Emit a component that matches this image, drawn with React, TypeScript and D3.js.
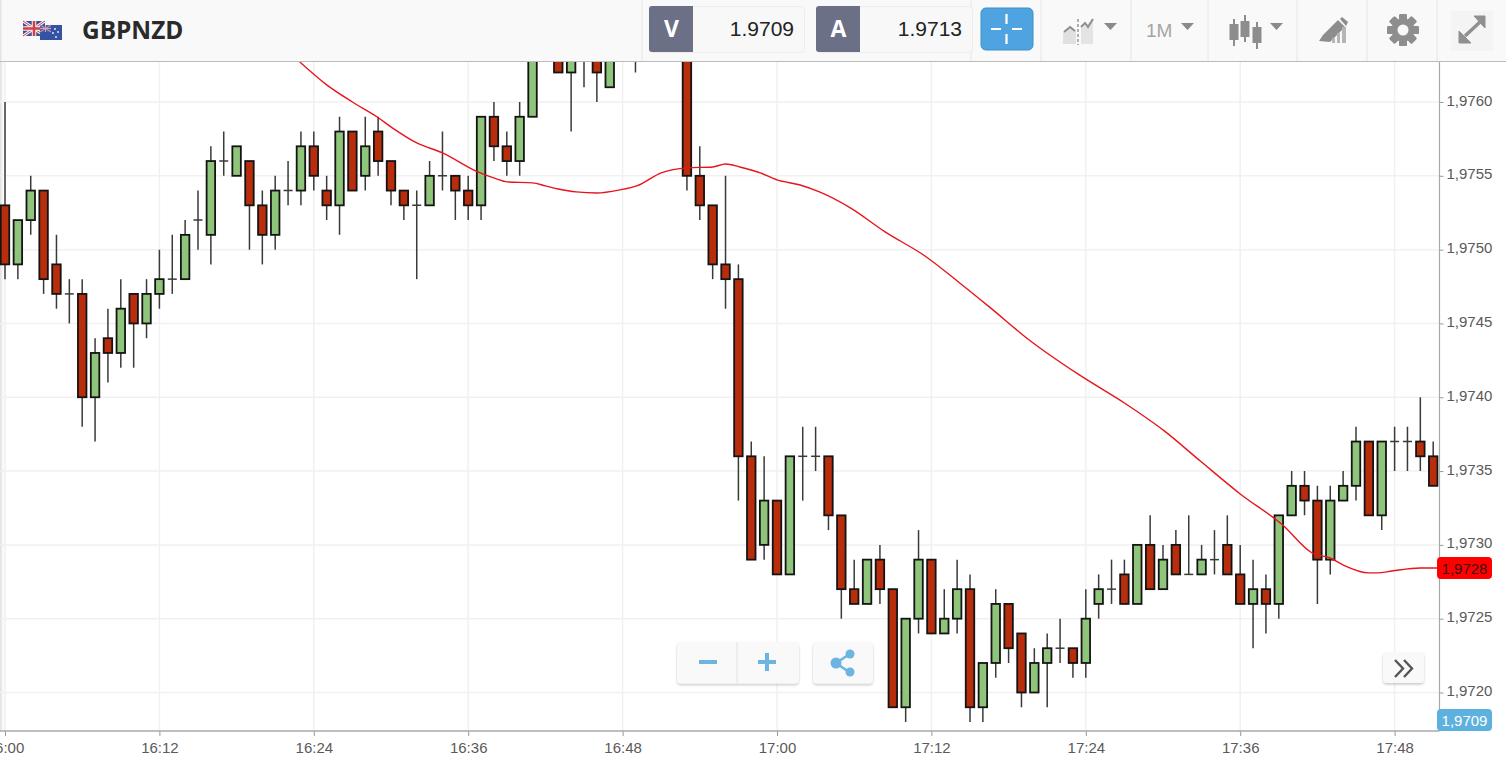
import { useEffect, useRef } from 'react';
import * as d3 from 'd3';

// prices are in pips above 1.9700, one candle per minute from 16:00
const opens = [53,49,52,54,49,47,47,40,44,43,47,45,47,48,48,52,51,56,55,56,53,51,54,54,57,54,53,58,55,58,56,54,53,53,55,55,54,53,59,57,56,59,66,64,62,64,64,61,64,65,66,67,68,68,55,53,49,48,36,30,33,28,36,36,36,32,27,26,29,27,19,25,29,24,25,27,19,22,26,24,20,22,23,23,22,26,27,28,26,30,27,30,28,28,29,30,28,26,27,26,32,34,33,29,33,34,37,32,37,37,37,36];
const highs = [60,52,55,54,51,48,48,44,46,48,47,48,50,51,52,54,57,58,57,56,54,55,56,58,58,55,59,58,59,59,56,54,54,56,58,55,55,59,60,58,60,65,67,65,65,66,65,65,66,67,68,69,70,69,57,53,55,49,37,36,33,36,38,38,36,32,29,29,30,27,25,31,29,27,29,28,22,27,26,24,23,24,25,23,27,28,29,29,30,32,30,31,32,30,31,32,30,29,28,32,35,35,34,34,35,38,37,37,38,38,40,37];
const lows = [48,48,51,47,46,45,38,37,41,42,42,44,46,47,48,50,49,55,55,50,49,50,53,53,54,52,51,54,54,55,53,52,48,53,54,52,52,52,56,55,55,59,64,62,58,61,60,61,63,62,65,66,67,54,52,48,46,33,29,29,28,28,33,35,31,25,26,26,26,19,18,24,24,24,24,18,18,21,22,19,20,19,22,21,21,25,26,26,26,27,27,28,28,28,28,28,26,23,24,25,32,32,26,28,33,33,32,31,35,35,35,34];
const closes = [49,52,54,48,47,47,40,43,43,46,45,47,48,48,51,52,56,56,57,53,51,54,54,57,55,53,58,54,57,56,54,53,53,55,55,54,53,59,57,56,59,64,65,62,64,63,62,64,65,66,67,68,69,55,53,49,48,36,29,33,28,36,36,36,32,27,26,29,27,19,25,29,24,25,27,19,22,26,23,20,22,23,23,22,25,27,27,26,30,27,29,28,28,29,29,28,26,27,26,32,34,33,29,33,34,37,32,37,37,37,36,34];

const maMinutes = [22.9,25,27,28.9,30.1,32,34,36.75,38.2,39,41,42,43,44.4,46,47.8,49.1,51,53,55,56,57.1,58.7,60,61.8,63.3,65.7,68.4,71.5,74.2,76.5,79.6,83.5,87,90.1,92.9,96,99.3,101.6,103,104,106,106.7,107.8,110,111.4];
const maValues = [62.72,61.16,60,59,58.25,57.23,56.55,55.26,54.79,54.59,54.52,54.32,54.11,53.91,53.84,54.05,54.32,55.2,55.54,55.6,55.8,55.6,55.2,54.72,54.38,53.91,52.83,51.2,49.57,47.74,46.12,43.88,41.51,39.61,37.72,35.68,33.45,31.35,29.45,29.11,28.64,28.1,28.1,28.23,28.43,28.43];

const priceTicks = [20,25,30,35,40,45,50,55,60];
const timeTicks = [0,12,24,36,48,60,72,84,96,108];
const timeLabels = ['16:00','16:12','16:24','16:36','16:48','17:00','17:12','17:24','17:36','17:48'];

const symbol = 'GBPNZD';
const sellPrice = '1.9709';
const buyPrice = '1.9713';
const lastMa = '1,9728';
const lastPrice = '1,9709';

const RED = '#b82d0c';
const GREEN = '#8fc47b';
const INK = '#141414';
const AXIS_FONT = '"Liberation Sans", Arial, sans-serif';

const W = 1506;
const H = 769;
const plot = { left: 0, right: 1439.5, top: 62, bottom: 731 };

const x = d3.scaleLinear().domain([0, 12]).range([5, 159.4]);
const y = d3.scaleLinear().domain([20, 60]).range([692.5, 102]);
const fmtPrice = (p: number) => (1.97 + p / 10000).toFixed(4).replace('.', ',');

const App = () => {
  const chartRef = useRef<SVGGElement>(null);

  useEffect(() => {
    const g = d3.select(chartRef.current);
    g.selectAll('*').remove();

    // grid
    g.append('g').selectAll('line').data(priceTicks).join('line')
      .attr('x1', plot.left).attr('x2', plot.right)
      .attr('y1', (d) => y(d)).attr('y2', (d) => y(d))
      .attr('stroke', '#f1f1f1').attr('stroke-width', 1.5);
    g.append('g').selectAll('line').data(timeTicks).join('line')
      .attr('x1', (d) => x(d)).attr('x2', (d) => x(d))
      .attr('y1', plot.top).attr('y2', plot.bottom)
      .attr('stroke', '#f1f1f1').attr('stroke-width', 1.5);

    const body = g.append('g').attr('clip-path', 'url(#plot-clip)');
    const candles = body.selectAll('g.candle').data(d3.range(opens.length)).join('g').attr('class', 'candle');

    candles.append('line')
      .attr('x1', (i) => x(i)).attr('x2', (i) => x(i))
      .attr('y1', (i) => y(highs[i])).attr('y2', (i) => y(lows[i]))
      .attr('stroke', '#3a3a3a').attr('stroke-width', 1.5);

    // open == close: just a dash
    candles.filter((i) => opens[i] === closes[i]).append('line')
      .attr('x1', (i) => x(i) - 4.5).attr('x2', (i) => x(i) + 4.5)
      .attr('y1', (i) => y(opens[i])).attr('y2', (i) => y(opens[i]))
      .attr('stroke', '#3a3a3a').attr('stroke-width', 1.5);

    candles.filter((i) => opens[i] !== closes[i]).append('rect')
      .attr('x', (i) => x(i) - 4.25).attr('width', 8.5)
      .attr('y', (i) => y(Math.max(opens[i], closes[i])))
      .attr('height', (i) => Math.abs(y(opens[i]) - y(closes[i])))
      .attr('fill', (i) => (closes[i] > opens[i] ? GREEN : RED))
      .attr('stroke', INK).attr('stroke-width', 1.8);

    const maLine = d3.line<number>()
      .x((m) => x(m))
      .y((_, i) => y(maValues[i]))
      .curve(d3.curveMonotoneX);
    body.append('path').attr('d', maLine(maMinutes))
      .attr('fill', 'none').attr('stroke', '#e8141c').attr('stroke-width', 1.4);

    // axes
    const yAxis = d3.axisRight(y).tickValues(priceTicks).tickFormat((d) => fmtPrice(+d)).tickSize(4).tickPadding(3);
    const yG = g.append('g').attr('transform', `translate(${plot.right},0)`).call(yAxis);
    const xAxis = d3.axisBottom(x).tickValues(timeTicks).tickFormat((_, i) => timeLabels[i]).tickSize(5).tickPadding(6);
    const xG = g.append('g').attr('transform', `translate(0,${plot.bottom})`).call(xAxis);

    yG.select('.domain').remove();
    xG.select('.domain').remove();
    [yG, xG].forEach((a) => {
      a.selectAll('text').attr('fill', '#5a5a5a').style('font-family', AXIS_FONT).style('font-size', '15px');
      a.selectAll('line').attr('stroke', '#999');
    });
    // the price labels sit a little above their tick
    yG.selectAll('text').attr('dy', '0.2em');

    g.append('line').attr('x1', plot.right).attr('x2', plot.right).attr('y1', plot.top).attr('y2', plot.bottom)
      .attr('stroke', '#a8a8a8').attr('stroke-width', 1.2);
    g.append('line').attr('x1', 0).attr('x2', plot.right).attr('y1', plot.bottom).attr('y2', plot.bottom)
      .attr('stroke', '#a8a8a8').attr('stroke-width', 1.5);
  }, []);

  const sep = [642, 971, 1041, 1131, 1208, 1297, 1367, 1437];
  const blue = '#6db4e2';

  return (
    <svg width={W} height={H} style={{ position: 'absolute', left: 0, top: 0, background: '#fff' }}>
      <defs>
        <clipPath id="plot-clip">
          <rect x={plot.left} y={plot.top} width={plot.right - plot.left} height={plot.bottom - plot.top} />
        </clipPath>
        <linearGradient id="edge" x1="0" x2="1" y1="0" y2="0">
          <stop offset="0" stopColor="#dcdcdc" />
          <stop offset="1" stopColor="#ffffff" stopOpacity="0" />
        </linearGradient>
        <filter id="btn-shadow" x="-10%" y="-10%" width="120%" height="130%">
          <feDropShadow dx="0" dy="1.5" stdDeviation="1" floodColor="#000" floodOpacity="0.22" />
        </filter>
      </defs>

      <rect x={0} y={62} width={5} height={669} fill="url(#edge)" />
      <g ref={chartRef} />

      {/* toolbar */}
      <rect x={0} y={0} width={W} height={61} fill="#f9f9f9" />
      <rect x={0} y={0} width={4} height={61} fill="url(#edge)" />
      <line x1={0} x2={W} y1={61.5} y2={61.5} stroke="#bcbcbc" strokeWidth={1.2} />
      {sep.map((s) => <line key={s} x1={s} x2={s} y1={0} y2={61} stroke="#e6e6e6" />)}

      {/* flags */}
      <g>
        <rect x={23} y={21} width={22} height={15} fill="#3c4f94" />
        <path d="M23 21 L45 36 M45 21 L23 36" stroke="#f2f2f2" strokeWidth={3} />
        <path d="M23 21 L45 36 M45 21 L23 36" stroke="#d0404c" strokeWidth={1} />
        <path d="M34 21 V36 M23 28.5 H45" stroke="#f2f2f2" strokeWidth={4.5} />
        <path d="M34 21 V36 M23 28.5 H45" stroke="#d0404c" strokeWidth={2.5} />
        <rect x={40} y={25} width={22} height={15} fill="#3553a5" />
        <rect x={40} y={25} width={11} height={7} fill="#4a5fa8" />
        <path d="M40 25 L51 32 M51 25 L40 32 M45.5 25 V32 M40 28.5 H51" stroke="#d9a0b0" strokeWidth={1} />
        {[[55, 29], [58, 32], [53, 33], [56, 37]].map(([a, b]) => <circle key={a} cx={a} cy={b} r={0.9} fill="#f4f4f4" />)}
      </g>
      <text x={82} y={39} fontFamily='"Open Sans", sans-serif' fontWeight={700} fontSize={24.4} fill="#2a2a2a">{symbol}</text>

      {/* bid / ask */}
      {[{ l: 649, t: 'V', v: sellPrice, r: 804 }, { l: 816, t: 'A', v: buyPrice, r: 972 }].map((b) => (
        <g key={b.t}>
          <rect x={b.l + 0.5} y={6.5} width={b.r - b.l} height={46} rx={3} fill="#f8f8f8" stroke="#ececec" />
          <path d={`M${b.l + 3} 6 H${b.l + 44} V52 H${b.l + 3} a3 3 0 0 1 -3 -3 V9 a3 3 0 0 1 3 -3 Z`} fill="#6c7086" />
          <text x={b.l + 22.5} y={37} textAnchor="middle" fontFamily='"Open Sans", sans-serif' fontWeight={700} fontSize={23} fill="#fff">{b.t}</text>
          <text x={b.r - 10} y={36} textAnchor="end" fontFamily={AXIS_FONT} fontSize={21} fill="#222">{b.v}</text>
        </g>
      ))}

      {/* crosshair button */}
      <rect x={981} y={8} width={52} height={42} rx={5} fill="#4ea3e0" stroke="#3f8fc9" />
      <path d="M1006.5 14 V24 M1006.5 34 V44 M991 29 H1001 M1012 29 H1022" stroke="#fff" strokeWidth={2.2} />

      {/* chart type icon */}
      <g>
        <path d="M1063 44 V33 L1070 26 L1076 31 V44 Z" fill="#e0e0e0" />
        <path d="M1081 28 L1093 20 V44 H1081 Z" fill="#e4e4e4" />
        <path d="M1064 32 L1070 27 L1075 31 M1081 27 L1085 23 L1088 27 L1093 19" stroke="#8f8f8f" strokeWidth={2} fill="none" />
        <path d="M1078 19 V45" stroke="#999" strokeWidth={1.5} strokeDasharray="3 2" />
      </g>
      <path d="M1104 23 H1117 L1110.5 30 Z" fill="#8a8a8a" />
      <text x={1146} y={37} fontFamily={AXIS_FONT} fontSize={19} fill="#a5a5a5">1M</text>
      <path d="M1181 23 H1194 L1187.5 30 Z" fill="#8a8a8a" />

      {/* candle icon */}
      <g fill="#8d8d8d" stroke="#8d8d8d" strokeWidth={2}>
        <line x1={1234} x2={1234} y1={19} y2={46} />
        <line x1={1245} x2={1245} y1={15} y2={42} />
        <line x1={1257} x2={1257} y1={22} y2={49} />
        <rect x={1230.5} y={25} width={7} height={14} />
        <rect x={1241.5} y={22} width={7} height={14} />
        <rect x={1253.5} y={28} width={7} height={14} />
      </g>
      <path d="M1270 23 H1283 L1276.5 30 Z" fill="#8a8a8a" />

      {/* draw icon */}
      <g fill="#8d8d8d">
        <path d="M1319 41 L1323 35 L1338 20 L1345 27 L1330 42 Z" />
        <path d="M1340 19 L1342 17 L1348 22 L1346 26 Z" />
        <rect x={1332} y={38} width={3} height={5} fill="#b5b5b5" />
        <rect x={1337} y={33} width={3} height={10} fill="#b5b5b5" />
        <rect x={1342} y={27} width={4} height={16} fill="#b5b5b5" />
      </g>

      {/* gear */}
      <g transform="translate(1403,30)">
        {d3.range(8).map((k) => <rect key={k} x={-4} y={-16} width={8} height={32} rx={1.5} fill="#8e8e8e" transform={`rotate(${k * 45})`} />)}
        <circle r={11.5} fill="#8e8e8e" />
        <circle r={5.5} fill="#f9f9f9" />
      </g>

      {/* fullscreen */}
      <rect x={1451} y={11} width={42} height={40} fill="#f4f4f4" />
      <g fill="#909090" stroke="#909090">
        <path d="M1465 36 L1480 22" strokeWidth={3.5} fill="none" />
        <path d="M1474 16 H1485 V28 Z" />
        <path d="M1459 31 V43 H1471 Z" />
      </g>

      {/* price tags */}
      <rect x={1437} y={557} width={55} height={22} rx={4} fill="#fe0000" />
      <text x={1464.5} y={573.5} textAnchor="middle" fontFamily={AXIS_FONT} fontSize={15} fill="#3a1010">{lastMa}</text>
      <rect x={1437} y={709} width={55} height={22} rx={4} fill="#5cb1de" />
      <text x={1464.5} y={725.5} textAnchor="middle" fontFamily={AXIS_FONT} fontSize={15} fill="#fff">{lastPrice}</text>

      {/* floating buttons */}
      <g filter="url(#btn-shadow)">
        <rect x={677} y={642} width={122} height={41.5} rx={4} fill="#f9f9f9" />
        <rect x={813} y={642} width={60} height={41.5} rx={4} fill="#f9f9f9" />
        <rect x={1383} y={652} width={41} height={31} rx={4} fill="#f9f9f9" />
      </g>
      <line x1={737} x2={737} y1={642} y2={683} stroke="#e3e3e3" />
      <rect x={699} y={660} width={18} height={4} fill={blue} />
      <path d="M758 662 H776 M767 653 V671" stroke={blue} strokeWidth={4} />
      <path d="M849 654.5 L836 663 L849 672" stroke={blue} strokeWidth={2.5} fill="none" />
      <circle cx={850} cy={654} r={4.5} fill={blue} />
      <circle cx={850} cy={672} r={4.5} fill={blue} />
      <circle cx={836} cy={663} r={5.5} fill={blue} />
      <path d="M1395 660 L1403 668.5 L1395 677 M1404 660 L1412 668.5 L1404 677" stroke="#555" strokeWidth={2.4} fill="none" />
    </svg>
  );
};

export default App;
